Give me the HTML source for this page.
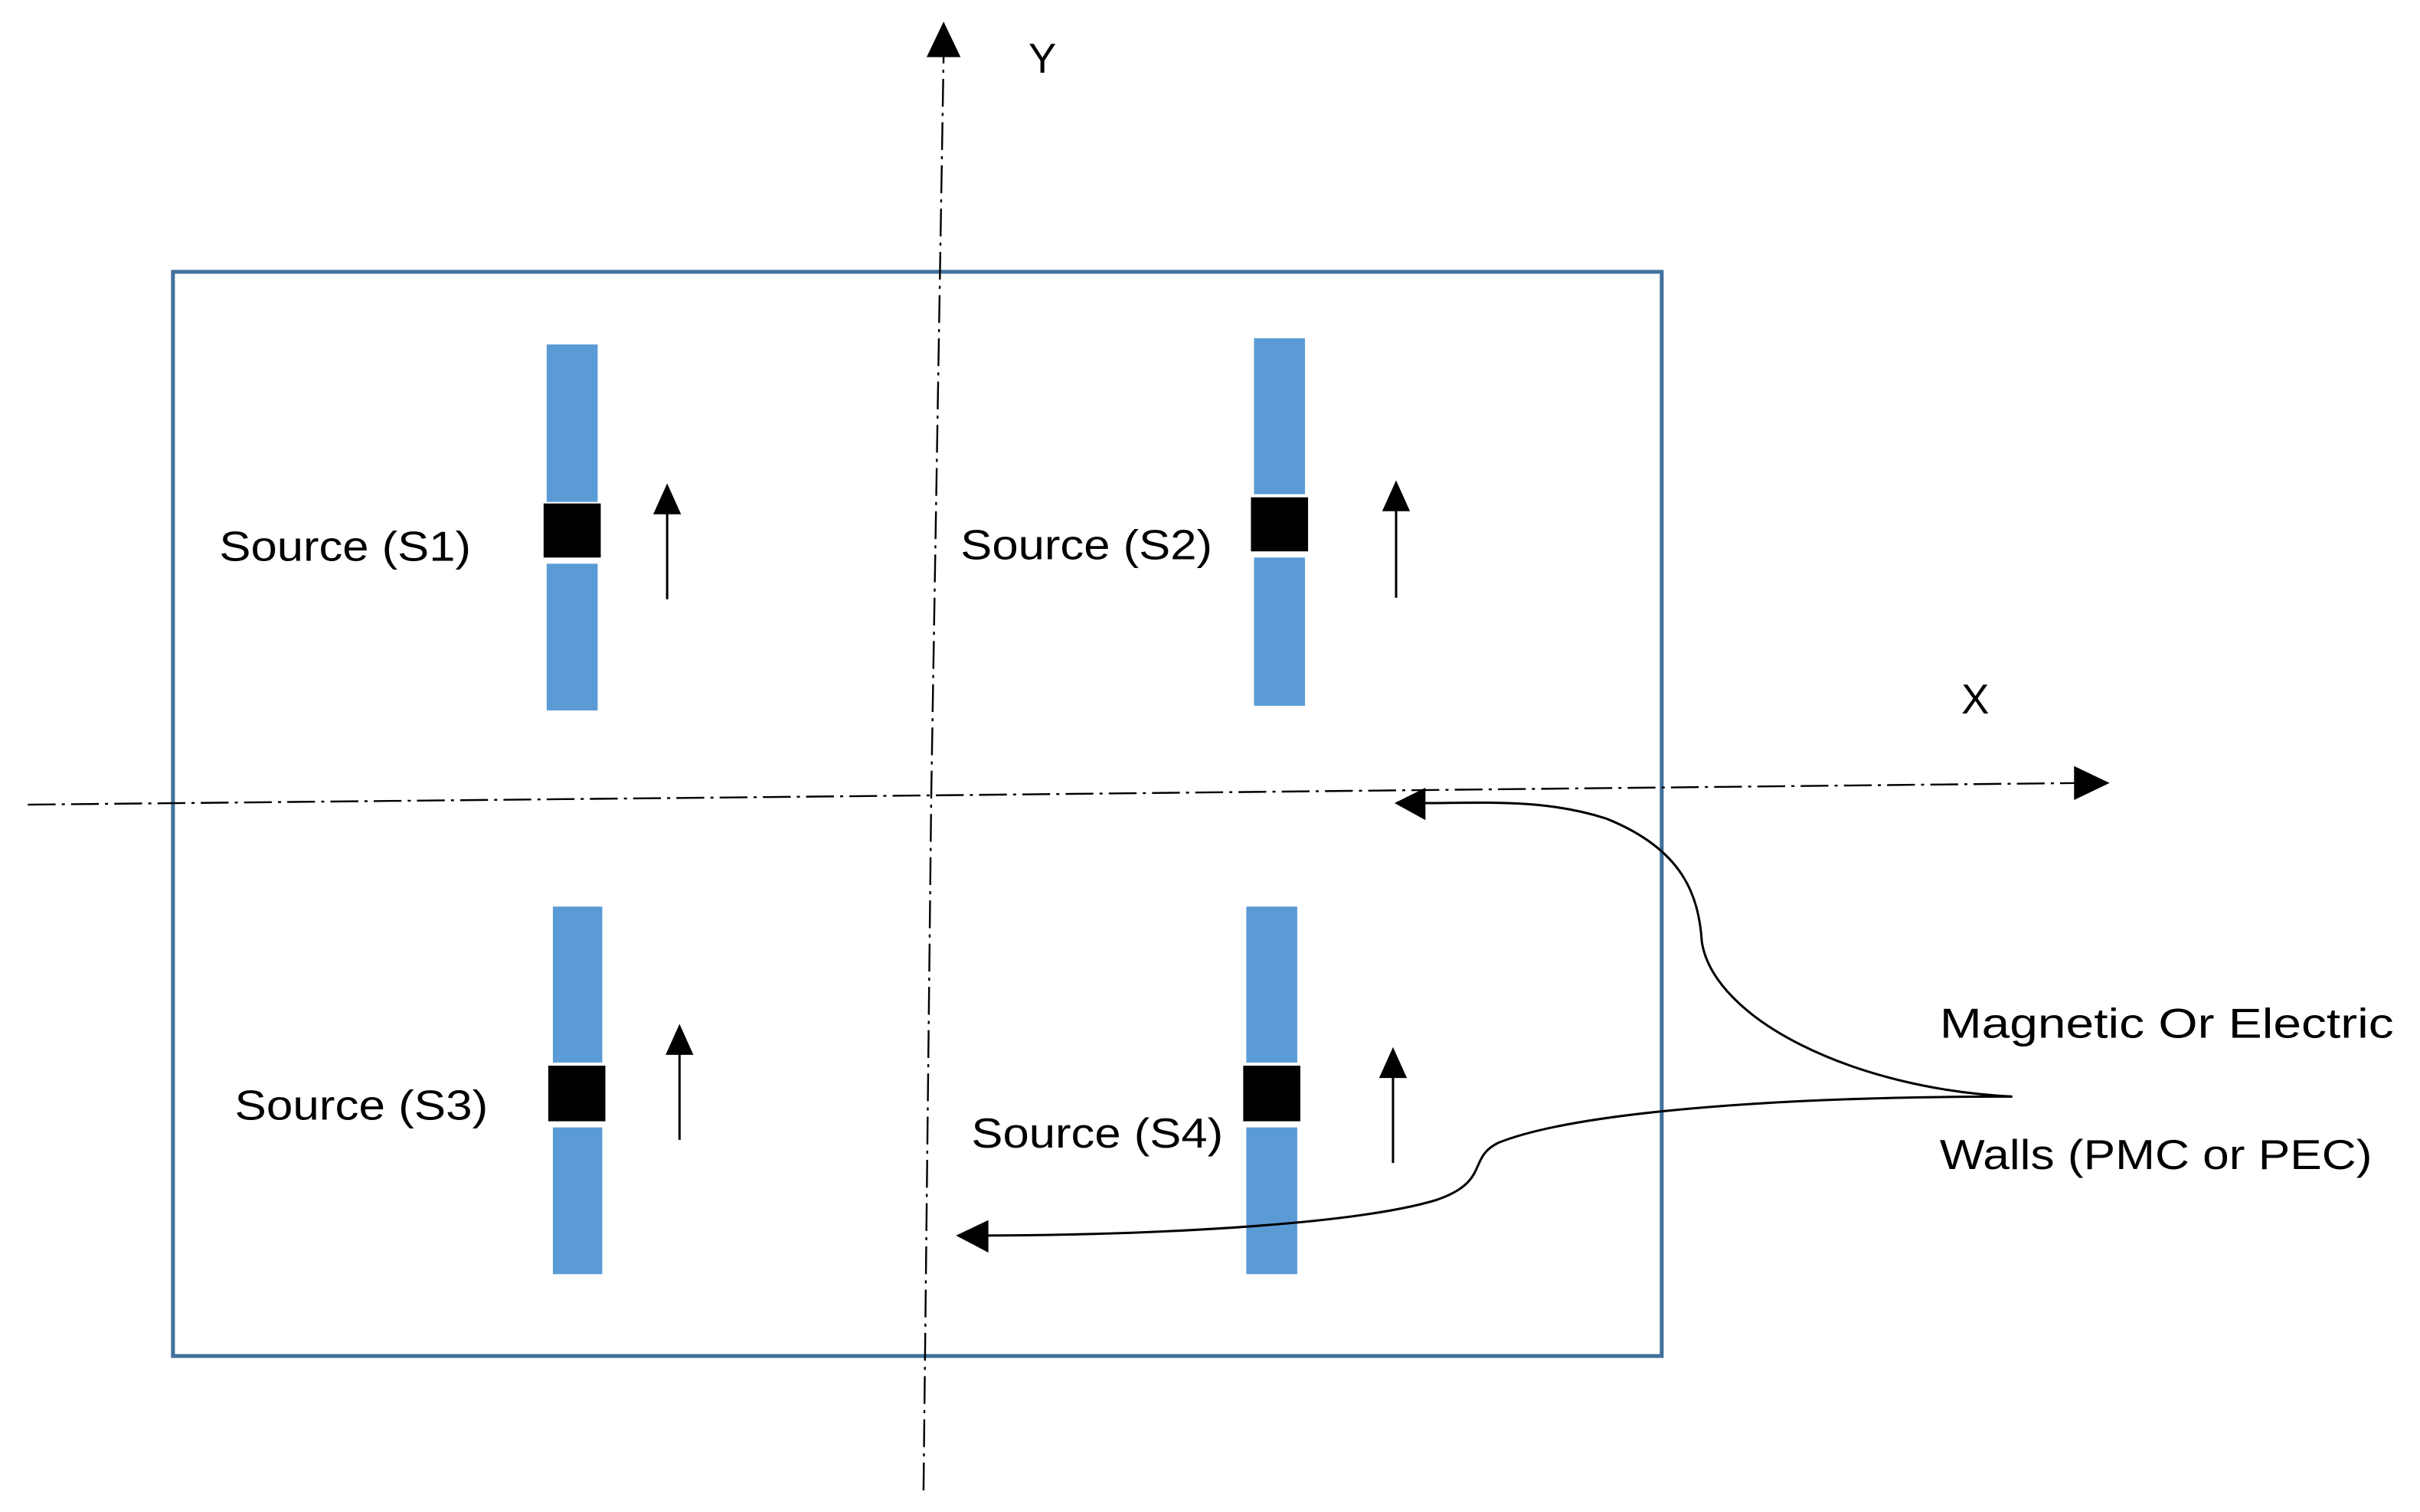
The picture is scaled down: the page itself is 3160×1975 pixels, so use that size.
<!DOCTYPE html>
<html><head><meta charset="utf-8"><style>html,body{margin:0;padding:0;background:#fff}svg{display:block}</style></head>
<body>
<svg width="3160" height="1975" viewBox="0 0 1567 979" preserveAspectRatio="none" xmlns="http://www.w3.org/2000/svg">
<rect width="1567" height="979" fill="#fff"/>
<rect x="112" y="176" width="964" height="702" fill="none" stroke="#41719c" stroke-width="2.5"/>
<g stroke="#000" stroke-width="1.2" fill="none" stroke-dasharray="18,4,2,4">
<path d="M598 965 L603 515 L611 36"/>
<path d="M18 521 L603 515 L1345 507"/>
</g>
<polygon points="611,14 600,37 622,37" fill="#000"/>
<polygon points="1366,507 1343,496 1343,518" fill="#000"/>
<g font-family="'Liberation Sans', sans-serif" font-size="27" fill="#000">
<text x="666" y="47">Y</text>
<text x="1270" y="462">X</text>
<text x="142" y="363" textLength="163" lengthAdjust="spacingAndGlyphs">Source (S1)</text>
<text x="622" y="362" textLength="163" lengthAdjust="spacingAndGlyphs">Source (S2)</text>
<text x="152" y="725" textLength="164" lengthAdjust="spacingAndGlyphs">Source (S3)</text>
<text x="629" y="743" textLength="163" lengthAdjust="spacingAndGlyphs">Source (S4)</text>
<text x="1256" y="672" textLength="294" lengthAdjust="spacingAndGlyphs">Magnetic Or Electric</text>
<text x="1256" y="757" textLength="280" lengthAdjust="spacingAndGlyphs">Walls (PMC or PEC)</text>
</g>
<g fill="#5b9bd5">
<rect x="354" y="223" width="33" height="102"/><rect x="354" y="365" width="33" height="95"/>
<rect x="812" y="219" width="33" height="101"/><rect x="812" y="361" width="33" height="96"/>
<rect x="358" y="587" width="32" height="101"/><rect x="358" y="730" width="32" height="95"/>
<rect x="807" y="587" width="33" height="101"/><rect x="807" y="730" width="33" height="95"/>
</g>
<g fill="#000">
<rect x="352" y="326" width="37" height="35"/>
<rect x="810" y="322" width="37" height="35"/>
<rect x="355" y="690" width="37" height="36"/>
<rect x="805" y="690" width="37" height="36"/>
<polygon points="432,313 423,333 441,333"/>
<polygon points="904,311 895,331 913,331"/>
<polygon points="440,663 431,683 449,683"/>
<polygon points="902,678 893,698 911,698"/>
<polygon points="903,520 923,510 923,531"/>
<polygon points="619,800 640,790 640,811"/>
</g>
<g stroke="#000" stroke-width="1.5" fill="none">
<line x1="432" y1="330" x2="432" y2="388"/>
<line x1="904" y1="328" x2="904" y2="387"/>
<line x1="440" y1="680" x2="440" y2="738"/>
<line x1="902" y1="695" x2="902" y2="753"/>
<path d="M1303 710 C1200 705 1110 660 1102 610 C1100 580 1090 550 1040 530 C1000 517 960 520 920 520"/>
<path d="M1303 710 C1150 710 1020 720 970 740 C950 750 965 765 930 777 C870 795 720 800 636 800"/>
</g>
</svg>
</body></html>
